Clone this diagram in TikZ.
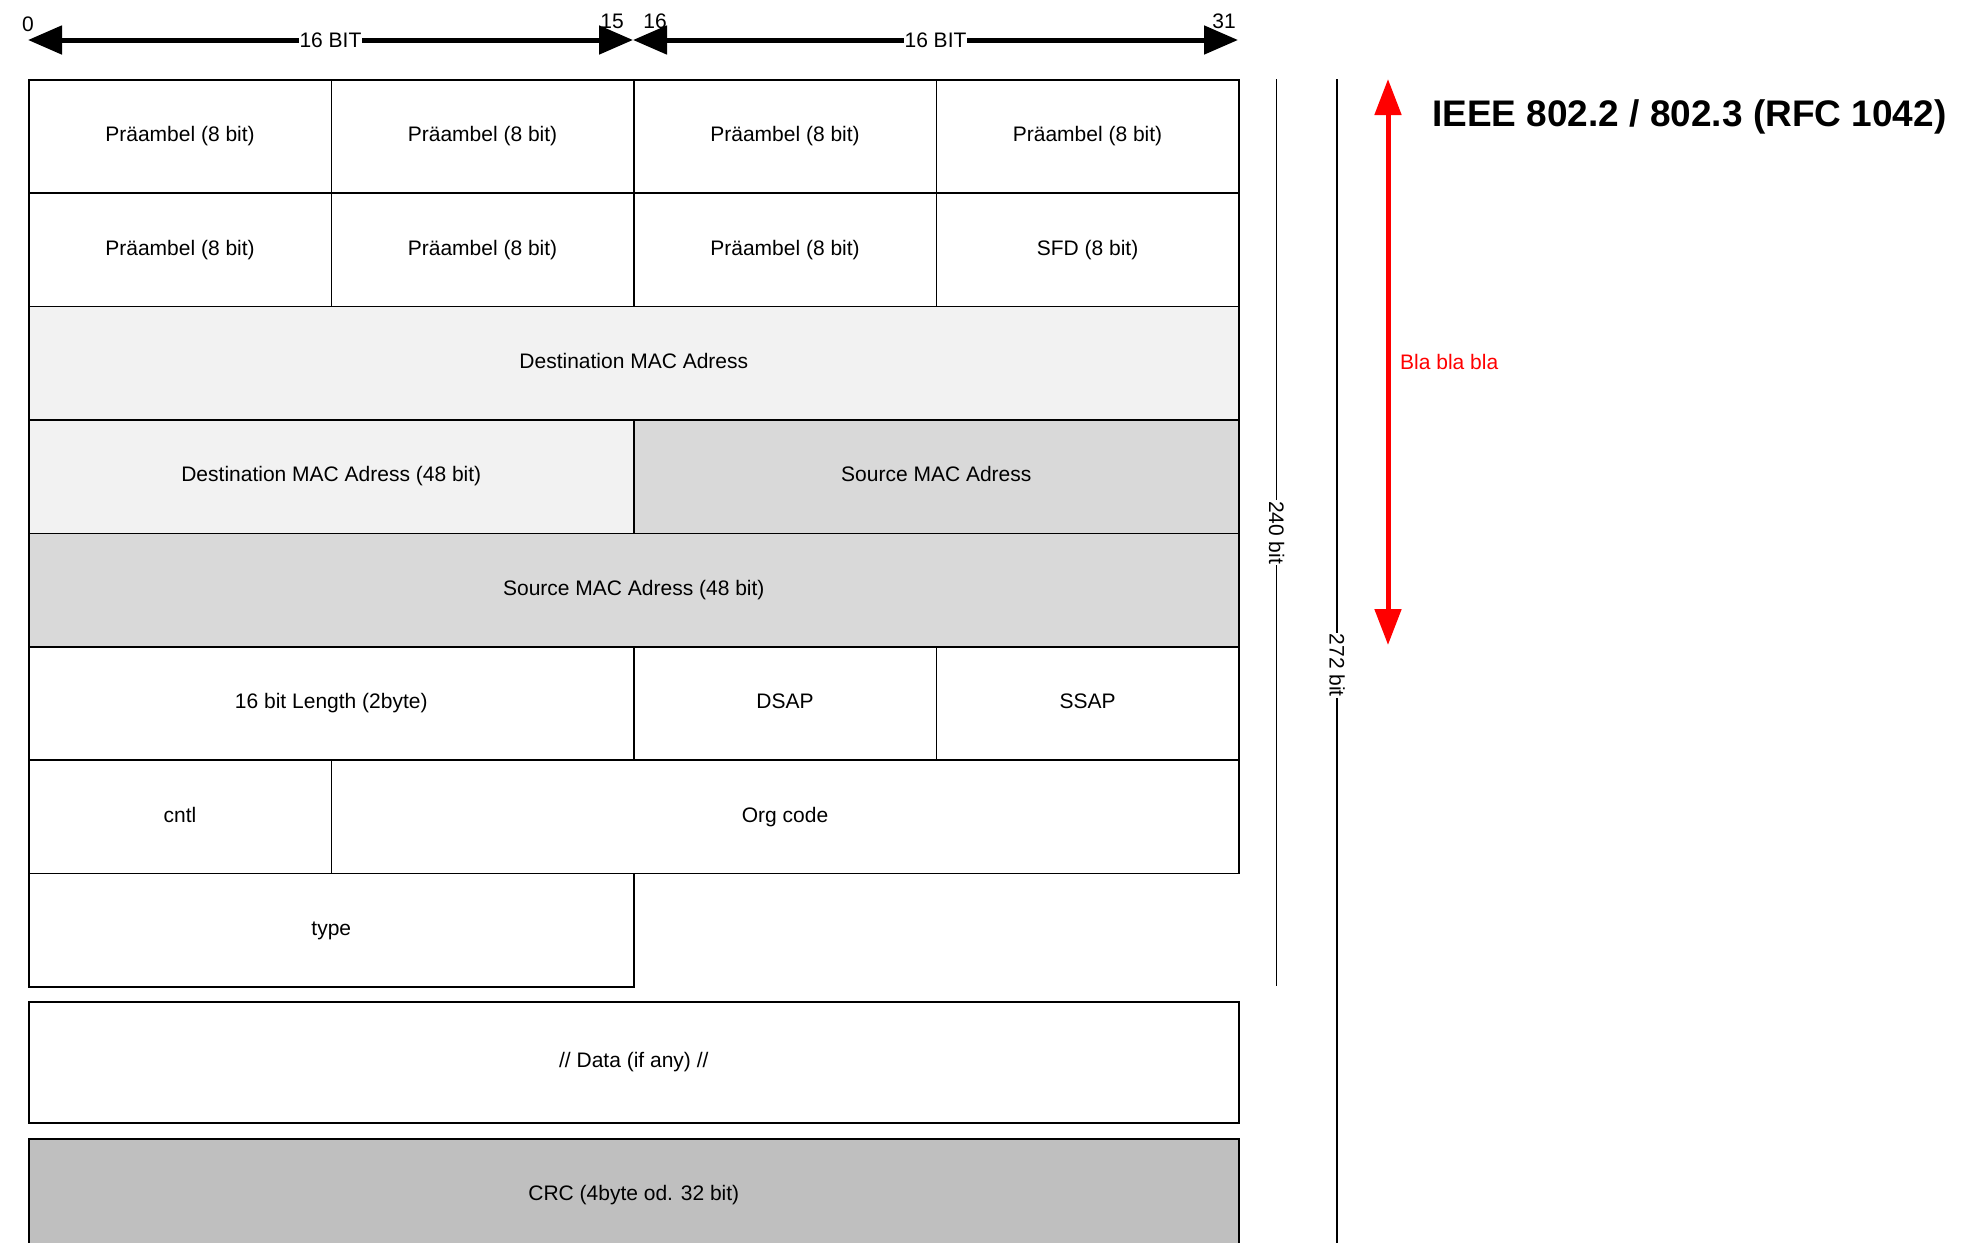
\documentclass[tikz,border=0pt]{standalone}
\usepackage{fontspec}
\setmainfont{Liberation Sans}
\usetikzlibrary{arrows.meta}
\definecolor{dstfill}{HTML}{F2F2F2}
\definecolor{srcfill}{HTML}{D9D9D9}
\definecolor{crcfill}{HTML}{BFBFBF}
\definecolor{notered}{HTML}{FF0000}
\begin{document}
\begin{tikzpicture}[x=1pt,y=-1pt,
  every node/.style={font=\fontsize{21}{25}\selectfont},
  cell/.style={draw=black, line width=1.6pt, anchor=north west, inner sep=0pt,
    minimum height=113.4pt, text height=15pt, text depth=4.5pt},
  c1/.style={cell, minimum width=302.5pt},
  c2/.style={cell, minimum width=605pt},
  c3/.style={cell, minimum width=907.5pt},
  c4/.style={cell, minimum width=1210pt},
  dimarrow/.style={line width=5pt, {Triangle[length=34pt,width=28pt]}-{Triangle[length=34pt,width=28pt]}},
  dimlabel/.style={fill=white, inner sep=1pt},
  spanline/.style={line width=1.8pt},
  spanlabel/.style={fill=white, inner sep=1pt, rotate=-90},
  redarrow/.style={draw=notered, line width=5pt, {Triangle[length=36pt,width=26pt]}-{Triangle[length=36pt,width=26pt]}}
]
\useasboundingbox[fill=white] (0,0) rectangle (1970,1242);

% bit ruler
\coordinate (b0) at (28,40);
\coordinate (b15) at (633,40);
\coordinate (b31) at (1238,40);
\draw[dimarrow] (b0) -- node[dimlabel] (lh1) {16 BIT} (b15);
\draw[dimarrow] (b15) -- node[dimlabel] (lh2) {16 BIT} (b31);
\node (n0) at (28,24) {0};
\node (n15) at (612,21) {15};
\node (n16) at (655,21) {16};
\node (n31) at (1224,21) {31};

% row 1
\node[c1] (r1a) at (28,79) {Präambel (8 bit)};
\node[c1] (r1b) at (330.5,79) {Präambel (8 bit)};
\node[c1] (r1c) at (633,79) {Präambel (8 bit)};
\node[c1] (r1d) at (935.5,79) {Präambel (8 bit)};
% row 2
\node[c1] (r2a) at (28,192.4) {Präambel (8 bit)};
\node[c1] (r2b) at (330.5,192.4) {Präambel (8 bit)};
\node[c1] (r2c) at (633,192.4) {Präambel (8 bit)};
\node[c1] (r2d) at (935.5,192.4) {SFD (8 bit)};
% row 3
\node[c4, fill=dstfill] (r3) at (28,305.8) {Destination MAC Adress};
% row 4
\node[c2, fill=dstfill] (r4a) at (28,419.2) {Destination MAC Adress (48 bit)};
\node[c2, fill=srcfill] (r4b) at (633,419.2) {Source MAC Adress};
% row 5
\node[c4, fill=srcfill] (r5) at (28,532.6) {Source MAC Adress (48 bit)};
% row 6
\node[c2] (r6a) at (28,646) {16 bit Length (2byte)};
\node[c1] (r6b) at (633,646) {DSAP};
\node[c1] (r6c) at (935.5,646) {SSAP};
% row 7
\node[c1] (r7a) at (28,759.4) {cntl};
\node[c3] (r7b) at (330.5,759.4) {Org code};
% row 8
\node[c2] (r8) at (28,872.8) {type};
% data and crc
\node[c4, minimum height=121pt] (data) at (28,1001) {// Data (if any) //};
\node[c4, fill=crcfill] (crc) at (28,1138) {CRC (4byte od. 32 bit)};

% size spans
\coordinate (s240t) at (1276.5,79);
\coordinate (s240b) at (1276.5,986.2);
\draw[spanline] (s240t) -- node[spanlabel] (l240) {240 bit} (s240b);
\coordinate (s272t) at (1337,79);
\coordinate (s272b) at (1337,1251.5);
\draw[spanline] (s272t) -- node[spanlabel] (l272) {272 bit} (s272b);

% red marker
\coordinate (rt) at (1388,79);
\coordinate (rb) at (1388,645);
\draw[redarrow] (rt) -- (rb);
\node[anchor=west, text=notered, inner sep=0pt] (bla) at (1400,362) {Bla bla bla};

% title
\node[anchor=west, inner sep=0pt, font=\bfseries\fontsize{37}{44}\selectfont] (title) at (1432,117) {IEEE 802.2 / 802.3 (RFC 1042)};
\end{tikzpicture}
\end{document}
